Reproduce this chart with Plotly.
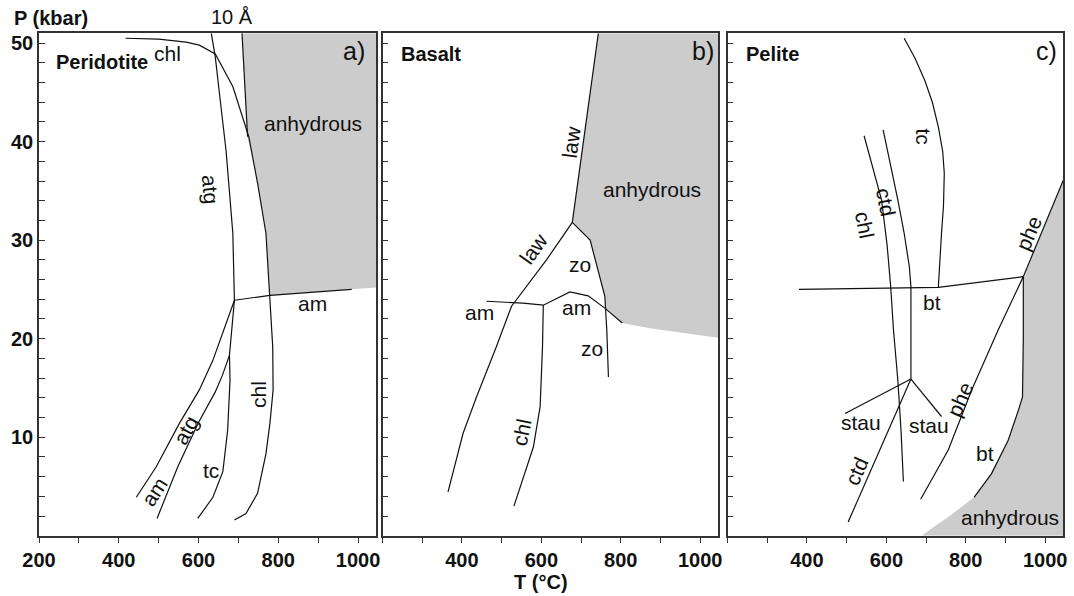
import plotly.graph_objects as go

# ---------------- data (T in °C, P in kbar) ----------------
# Panel a: Peridotite
a_chl_T = [417, 500, 569, 602, 642, 686, 726, 748, 769, 779, 786, 787, 779, 769, 748, 719, 690]
a_chl_P = [50.5, 50.4, 50.1, 49.8, 48.9, 45.6, 40.5, 35.8, 30.7, 24.4, 19.2, 14.8, 11.4, 8.3, 4.3, 2.25, 1.6]
a_10A_T = [709, 723]
a_10A_P = [51, 40.5]
a_atg_T = [632, 642, 655, 669, 678, 686, 690]
a_atg_P = [51, 48.6, 44, 39.1, 34.7, 30.7, 23.9]
a_amU_T = [690, 779, 984]
a_amU_P = [23.9, 24.4, 25.0]
a_amL_T = [690, 670, 636, 602, 552, 494, 470, 444]
a_amL_P = [23.9, 21.6, 17.8, 14.8, 11.4, 7.0, 5.5, 3.9]
a_atgL_T = [690, 683, 677.5, 660, 642, 600, 548, 496]
a_atgL_P = [23.9, 21, 18.3, 16.3, 14.6, 11.5, 7.0, 1.75]
a_tc_T = [677.5, 679, 673, 661, 636, 598]
a_tc_P = [18.3, 15.8, 10.7, 6.5, 3.9, 1.75]
a_gray_T = [709, 1045, 1045, 984, 779, 769, 748, 723]
a_gray_P = [51, 51, 25.2, 25.0, 24.4, 30.7, 35.8, 40.5]

# Panel b: Basalt
b_law_T = [743.6, 678, 613, 538, 525, 487, 437, 403, 365]
b_law_P = [51, 31.8, 28.0, 24.1, 23.3, 19.2, 14.1, 10.4, 4.45]
b_zo_T = [678, 723, 760, 765, 769]
b_zo_P = [31.8, 30.0, 24.3, 20.8, 16.1]
b_am_T = [462, 554, 605, 672, 718, 760, 804]
b_am_P = [23.8, 23.6, 23.4, 24.75, 24.35, 23.1, 21.6]
b_chl_T = [605, 603, 597, 580, 531]
b_chl_P = [23.4, 19.2, 13.1, 9.0, 3.0]
b_gray_T = [743.6, 1045, 1045, 966, 882, 815, 804, 762, 760, 723, 678]
b_gray_P = [51, 51, 20.1, 20.5, 21.0, 21.5, 21.6, 23.1, 24.3, 30.0, 31.8]

# Panel c: Pelite
c_tc_T = [645, 672, 697, 716, 731, 742, 746, 744, 739, 731]
c_tc_P = [50.5, 48.5, 46.2, 44, 41.5, 39, 36.8, 33.5, 30.7, 25.2]
c_chl_T = [544, 566, 588, 602, 611, 618, 629, 637, 643]
c_chl_P = [40.6, 37.4, 34.1, 29.5, 25.3, 20.9, 15.8, 10.7, 5.5]
c_ctd_T = [592, 611, 629, 645, 658, 662, 662]
c_ctd_P = [41.2, 37.6, 34.1, 30.7, 27.3, 25.3, 15.9]
c_btH_T = [380, 731, 945]
c_btH_P = [25.0, 25.2, 26.3]
c_pheU_T = [945, 991, 1046]
c_pheU_P = [26.3, 30.7, 36.1]
c_btV_T = [945, 945, 943, 934, 907, 865, 821]
c_btV_P = [26.3, 20, 14.1, 12.9, 9.7, 6.3, 3.9]
c_pheL_T = [945, 882, 815, 756, 686.5]
c_pheL_P = [26.3, 20.9, 14.8, 8.7, 3.7]
c_stauL_T = [662, 496]
c_stauL_P = [15.9, 12.4]
c_stauR_T = [662, 739]
c_stauR_P = [15.9, 12.1]
c_ctdL_T = [662, 504]
c_ctdL_P = [15.9, 1.4]
c_gray_T = [945, 1045, 1045, 689, 714, 756, 821, 865, 907, 934, 943, 945, 945]
c_gray_P = [26.3, 36.0, 0, 0, 0.73, 1.9, 3.9, 6.3, 9.7, 12.9, 14.1, 20, 26.3]

x_ticks = [200, 300, 400, 500, 600, 700, 800, 900, 1000]
y_ticks = list(range(2, 51, 2))

# ---------------- figure ----------------
FONT = "Liberation Sans, Arial, sans-serif"
W, H = 1074, 596
fig = go.Figure()

gray = "#cccccc"
ink = "#111111"

def fill(ax, T, P):
    fig.add_trace(go.Scatter(x=T, y=P, xaxis="x" + ax, yaxis="y" + ax, mode="lines",
                             fill="toself", fillcolor=gray, line=dict(width=0),
                             hoverinfo="skip", showlegend=False))

def line(ax, T, P):
    fig.add_trace(go.Scatter(x=T, y=P, xaxis="x" + ax, yaxis="y" + ax, mode="lines",
                             line=dict(color=ink, width=1.2), hoverinfo="skip",
                             showlegend=False))

fill("", a_gray_T, a_gray_P)
fill("2", b_gray_T, b_gray_P)
fill("3", c_gray_T, c_gray_P)

for T, P in [(a_chl_T, a_chl_P), (a_10A_T, a_10A_P), (a_atg_T, a_atg_P), (a_amU_T, a_amU_P),
             (a_amL_T, a_amL_P), (a_atgL_T, a_atgL_P), (a_tc_T, a_tc_P)]:
    line("", T, P)
for T, P in [(b_law_T, b_law_P), (b_zo_T, b_zo_P), (b_am_T, b_am_P), (b_chl_T, b_chl_P)]:
    line("2", T, P)
for T, P in [(c_tc_T, c_tc_P), (c_chl_T, c_chl_P), (c_ctd_T, c_ctd_P), (c_btH_T, c_btH_P),
             (c_pheU_T, c_pheU_P), (c_btV_T, c_btV_P), (c_pheL_T, c_pheL_P),
             (c_stauL_T, c_stauL_P), (c_stauR_T, c_stauR_P), (c_ctdL_T, c_ctdL_P)]:
    line("3", T, P)

annots = []

def lab(ax, T, P, text, angle=0, size=21, bold=False):
    t = f"<b>{text}</b>" if bold else text
    annots.append(dict(x=T, y=P, xref="x" + ax, yref="y" + ax, text=t, showarrow=False,
                       textangle=angle, xanchor="center", yanchor="middle",
                       font=dict(family=FONT, size=size, color=ink)))

# panel a labels
lab("", 359, 48.1, "Peridotite", bold=True, size=20)
lab("", 521, 48.9, "chl")
lab("", 887, 41.8, "anhydrous")
lab("", 990, 49.2, "a)", size=25)
lab("", 629, 35.2, "atg", angle=85)
lab("", 886, 23.6, "am")
lab("", 490, 4.45, "am", angle=-57)
lab("", 567, 10.7, "atg", angle=-62)
lab("", 632, 6.65, "tc")
lab("", 752, 14.3, "chl", angle=-90)
# panel b labels
lab("2", 321, 48.9, "Basalt", bold=True, size=20)
lab("2", 1008, 49.2, "b)", size=25)
lab("2", 676, 40.0, "law", angle=-82)
lab("2", 878, 35.1, "anhydrous")
lab("2", 580, 29.2, "law", angle=-54)
lab("2", 697, 27.5, "zo")
lab("2", 445, 22.7, "am")
lab("2", 689, 23.2, "am")
lab("2", 727, 19.0, "zo")
lab("2", 550, 10.5, "chl", angle=-78)
# panel c labels
lab("3", 313, 48.9, "Pelite", bold=True, size=20)
lab("3", 1004, 49.2, "c)", size=25)
lab("3", 693, 40.5, "tc", angle=90)
lab("3", 598, 33.9, "ctd", angle=79)
lab("3", 546, 31.5, "chl", angle=79)
lab("3", 958, 30.7, "phe", angle=-67)
lab("3", 714, 23.7, "bt")
lab("3", 535, 11.45, "stau")
lab("3", 708, 11.2, "stau")
lab("3", 786, 13.8, "phe", angle=-66)
lab("3", 849, 8.3, "bt")
lab("3", 525, 6.5, "ctd", angle=-66)
lab("3", 912, 1.85, "anhydrous")

# titles in paper coords
annots.append(dict(x=12 / W, y=1 - 18 / H, xref="paper", yref="paper", text="<b>P (kbar)</b>",
                   showarrow=False, xanchor="left", yanchor="middle",
                   font=dict(family=FONT, size=20, color=ink)))
annots.append(dict(x=232 / W, y=1 - 17 / H, xref="paper", yref="paper", text="10 Å",
                   showarrow=False, xanchor="center", yanchor="middle",
                   font=dict(family=FONT, size=20, color=ink)))
annots.append(dict(x=541 / W, y=1 - 582 / H, xref="paper", yref="paper", text="<b>T (°C)</b>",
                   showarrow=False, xanchor="center", yanchor="middle",
                   font=dict(family=FONT, size=20, color=ink)))

ydom = [1 - 535.7 / H, 1 - 33.3 / H]
xdoms = [[39 / W, 376 / W], [382.5 / W, 718 / W], [727.5 / W, 1063 / W]]

def xax(dom, anchor, first):
    txt = [f"<b>{v}</b>" if (v % 200 == 0 and (first or v > 200)) else "" for v in x_ticks]
    return dict(domain=dom, anchor=anchor, range=[200, 1045], showgrid=False, zeroline=False,
                showline=True, mirror=True, linecolor="#333333", linewidth=1.5,
                ticks="outside", ticklen=6, tickwidth=1.2, tickcolor="#333333",
                tickmode="array", tickvals=x_ticks, ticktext=txt, automargin=False,
                tickfont=dict(family=FONT, size=20, color=ink), fixedrange=True)

def yax(anchor, first):
    txt = [f"<b>{v}</b>" if v % 10 == 0 else "" for v in y_ticks]
    return dict(domain=ydom, anchor=anchor, range=[0, 51], showgrid=False, zeroline=False,
                showline=True, mirror=True, linecolor="#333333", linewidth=1.5,
                ticks="inside", ticklen=6, tickwidth=1.2, tickcolor="#333333",
                tickmode="array", tickvals=y_ticks, ticktext=txt, showticklabels=first,
                automargin=False,
                tickfont=dict(family=FONT, size=20, color=ink), fixedrange=True)

fig.update_layout(
    width=W, height=H, margin=dict(l=0, r=0, t=0, b=0, autoexpand=False),
    paper_bgcolor="white", plot_bgcolor="white", showlegend=False,
    xaxis=xax(xdoms[0], "y", True), yaxis=yax("x", True),
    xaxis2=xax(xdoms[1], "y2", False), yaxis2=yax("x2", False),
    xaxis3=xax(xdoms[2], "y3", False), yaxis3=yax("x3", False),
    annotations=annots,
)

fig.write_html("out.html", config={"displayModeBar": False})
